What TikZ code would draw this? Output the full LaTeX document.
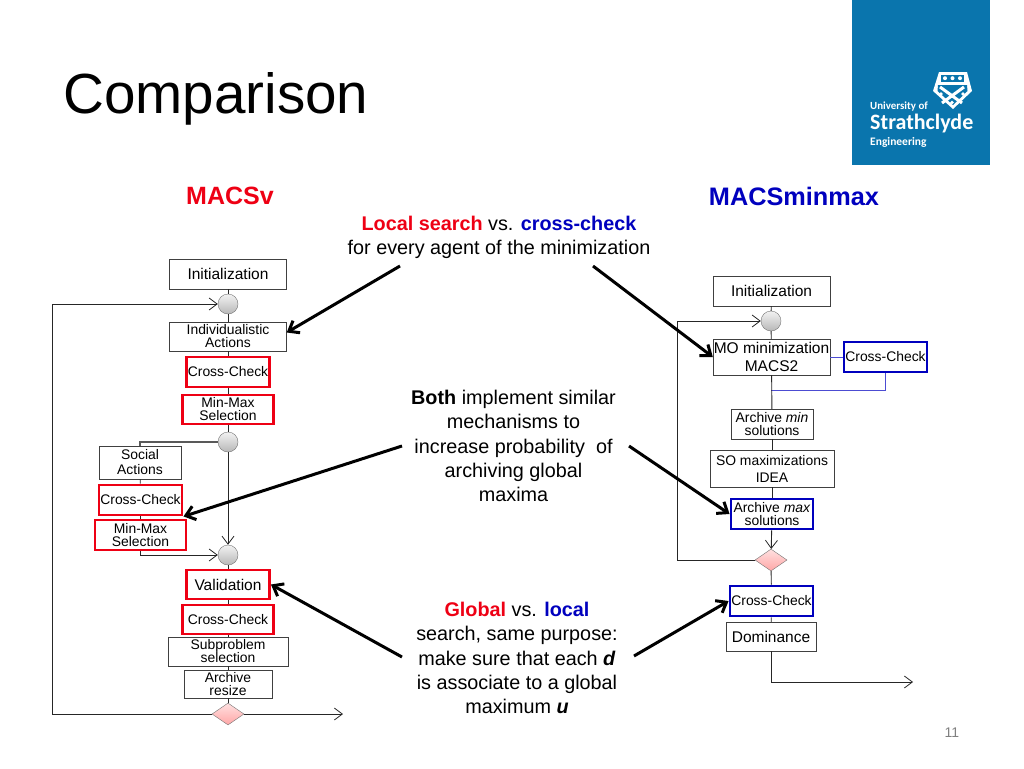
\documentclass[tikz,border=0pt]{standalone}
\usepackage{fontspec}
\setmainfont{Liberation Sans}
\newfontfamily\logofont{Carlito}
\usetikzlibrary{arrows.meta,shapes.geometric}
\definecolor{macsred}{RGB}{238,0,20}
\definecolor{macsblue}{RGB}{0,0,190}
\definecolor{logoblue}{RGB}{10,117,173}
\tikzset{
	box/.style={draw=black!75, fill=white, inner sep=0pt, align=center, font=\fontsize{13.9}{13}\selectfont},
	bigbox/.style={box, font=\fontsize{15.5}{18}\selectfont},
	redbox/.style={box, draw=macsred, line width=2.9pt},
	bluebox/.style={box, draw=macsblue, line width=2.9pt},
	junction/.style={circle, draw=black!55, top color=black!5, bottom color=black!28, minimum size=20pt, inner sep=0pt},
	decision/.style={diamond, draw=black!55, top color=red!12, bottom color=red!35, minimum width=32pt, minimum height=22pt, inner sep=0pt},
	flow/.style={draw=black!85, line width=0.9pt},
	flowarrow/.style={flow, -{Straight Barb[length=8pt,width=12pt,line width=0.8pt]}},
	pointer/.style={line width=3pt, -{Straight Barb[length=9pt,width=14pt,line width=3pt]}},
	talk/.style={inner sep=0pt, align=center, font=\fontsize{19.8}{24.2}\selectfont},
}
\begin{document}
\begin{tikzpicture}[x=1pt,y=-1pt]
	\useasboundingbox (0,0) rectangle (1024,768);
	
	%title and logo
	\node (title) at (63,99) [anchor=west, inner sep=0pt, font=\fontsize{56.6}{60}\selectfont]{Comparison};
	\fill[logoblue] (852,0) rectangle (990,165);
	\fill[white] (939,72) -- (967,72) -- (972,91) -- (953,109) -- (933,91) -- cycle;
	\fill[logoblue] (941,75) rectangle (964,81.5);
	\foreach \x in {945, 952.5, 960}{
		\fill[white] (\x,78.2) circle (2pt);
	}
	\fill[logoblue] (938,85) -- (967,85) -- (967.5,91) -- (953,105) -- (937.5,91) -- cycle;
	\draw[white, line width=3pt] (940,87) -- (962,103);
	\draw[white, line width=3pt] (964,87) -- (942,103);
	\foreach \x/\y in {941/94, 963/94, 952/102.5}{
		\fill[white] (\x,\y) circle (1.8pt);
	}
	\node (logoa) at (870,107) [anchor=west, inner sep=0pt, text=white, font=\logofont\bfseries\fontsize{10.9}{12}\selectfont]{University of};
	\node (logob) at (870,124) [anchor=west, inner sep=0pt, text=white, font=\logofont\bfseries\fontsize{22}{24}\selectfont]{Strathclyde};
	\node (logoc) at (870,142) [anchor=west, inner sep=0pt, text=white, font=\logofont\bfseries\fontsize{11.5}{13}\selectfont]{Engineering};
	
	%headings
	\node (headl) at (230,196) [inner sep=0pt, text=macsred, font=\bfseries\fontsize{25}{28}\selectfont]{MACSv};
	\node (headr) at (794,196) [inner sep=0pt, text=macsblue, font=\bfseries\fontsize{25.3}{28}\selectfont]{MACSminmax};
	
	%left flow
	\node (initl) at (228,274) [bigbox, minimum width=117pt, minimum height=30pt]{Initialization};
	\node (joina) at (228,304) [junction]{};
	\node (indiv) at (228,336.5) [box, minimum width=117pt, minimum height=29pt]{Individualistic\\Actions};
	\node (checka) at (228,372) [redbox, minimum width=83pt, minimum height=30pt]{Cross-Check};
	\node (selecta) at (228,409.5) [redbox, minimum width=91pt, minimum height=29pt]{Min-Max\\Selection};
	\node (joinb) at (228,442) [junction]{};
	\node (social) at (140,462.5) [box, minimum width=82pt, minimum height=33pt, font=\fontsize{13.9}{15}\selectfont]{Social\\Actions};
	\node (checkb) at (140.5,500) [redbox, minimum width=83pt, minimum height=30pt]{Cross-Check};
	\node (selectb) at (140.5,535) [redbox, minimum width=91pt, minimum height=30pt]{Min-Max\\Selection};
	\node (joinc) at (228,555) [junction]{};
	\node (valid) at (228,584.5) [redbox, minimum width=83pt, minimum height=29pt, font=\fontsize{15.5}{18}\selectfont]{Validation};
	\node (checkc) at (228,619.5) [redbox, minimum width=91pt, minimum height=29pt]{Cross-Check};
	\node (subpr) at (228,651.5) [box, minimum width=120pt, minimum height=29pt]{Subproblem\\selection};
	\node (resize) at (228,684) [box, minimum width=88pt, minimum height=28pt]{Archive\\resize};
	\node (dmdl) at (228,714) [decision]{};
	\coordinate (loopl) at (52,714);
	\coordinate (outl) at (343,714);
	
	\foreach \a/\b in {initl/joina, joina/indiv, indiv/checka, checka/selecta, selecta/joinb, social/checkb, checkb/selectb, joinc/valid, valid/checkc, checkc/subpr, subpr/resize, resize/dmdl}{
		\draw[flow] (\a) -- (\b);
	}
	\draw[flow, line width=1.3pt, draw=black!65] (joinb.west) -| (social.north);
	\draw[flowarrow] (joinb) -- (joinc);
	\draw[flowarrow] (selectb.south) |- (joinc.west);
	\draw[flowarrow] (dmdl.west) -- (loopl) |- (joina.west);
	\draw[flowarrow] (dmdl.east) -- (outl);
	
	%right flow
	\node (initr) at (771.5,291) [bigbox, minimum width=117pt, minimum height=30pt]{Initialization};
	\node (joind) at (771,321) [junction]{};
	\node (minim) at (771.5,357) [bigbox, minimum width=117pt, minimum height=36pt]{MO minimization\\MACS2};
	\node (checkd) at (885.5,357) [bluebox, minimum width=83pt, minimum height=30pt]{Cross-Check};
	\node (armin) at (772,424) [box, minimum width=82pt, minimum height=30pt]{Archive \textit{min}\\solutions};
	\node (maxim) at (772,468.5) [box, minimum width=124pt, minimum height=37pt, font=\fontsize{13.9}{17}\selectfont]{SO maximizations\\IDEA};
	\node (armax) at (772,514) [bluebox, minimum width=82pt, minimum height=30pt]{Archive \textit{max}\\solutions};
	\node (dmdr) at (771,560) [decision]{};
	\node (checke) at (771.5,601) [bluebox, minimum width=83pt, minimum height=30pt]{Cross-Check};
	\node (domin) at (771,636.5) [bigbox, minimum width=90pt, minimum height=29pt]{Dominance};
	\coordinate (loopr) at (677,560);
	\coordinate (outr) at (913,682);
	\coordinate (merge) at (771,390);
	
	\draw[macsblue!70, line width=1pt] (minim.east) -- (checkd.west);
	\draw[macsblue!70, line width=1pt] (checkd.south) |- (merge);
	\foreach \a/\b in {initr/joind, joind/minim, minim/armin, armin/maxim, maxim/armax, dmdr/checke, checke/domin}{
		\draw[flow] (\a) -- (\b);
	}
	\draw[flowarrow] (armax) -- (dmdr);
	\draw[flowarrow] (dmdr.west) -- (loopr) |- (joind.west);
	\draw[flowarrow] (domin.south) |- (outr);
	
	%remarks
	\node (tnote) at (499,237) [talk]{\textcolor{macsred}{\textbf{Local search}} vs. \textcolor{macsblue}{\textbf{cross-check}}\\for every agent of the minimization};
	\node (mnote) at (513.5,446) [talk]{\textbf{Both} implement similar\\mechanisms to\\increase probability\ \ of\\archiving global\\maxima};
	\node (bnote) at (517,658) [talk]{\textcolor{macsred}{\textbf{Global}} vs. \textcolor{macsblue}{\textbf{local}}\\search, same purpose:\\make sure that each \textit{\textbf{d}}\\is associate to a global\\maximum \textit{\textbf{u}}};
	\coordinate (tfroml) at (400,266);
	\coordinate (tfromr) at (593,266);
	\coordinate (mfroml) at (402,446);
	\coordinate (mfromr) at (629,446);
	\coordinate (bfroml) at (402,657);
	\coordinate (bfromr) at (634,656);
	\draw[pointer] (tfroml) -- ([yshift=4pt]indiv.east);
	\draw[pointer] (tfromr) -- (minim.west);
	\draw[pointer] (mfroml) -- (checkb.south east);
	\draw[pointer] (mfromr) -- (armax.west);
	\draw[pointer] (bfroml) -- (valid.east);
	\draw[pointer] (bfromr) -- (checke.west);
	
	\node (pagenum) at (952,733) [inner sep=0pt, text=black!50, font=\fontsize{14}{16}\selectfont]{11};
\end{tikzpicture}
\end{document}
